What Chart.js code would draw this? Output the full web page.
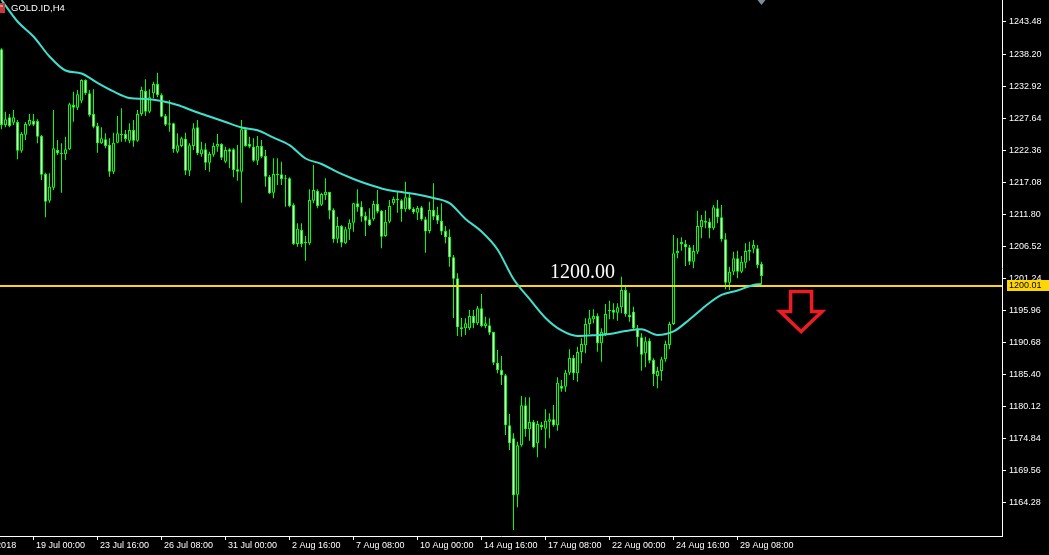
<!DOCTYPE html>
<html>
<head>
<meta charset="utf-8">
<script src="https://cdn.jsdelivr.net/npm/chart.js@4.4.1/dist/chart.umd.min.js"></script>
<style>
  html, body { margin: 0; padding: 0; background: #000; overflow: hidden; }
  #chart { display: block; background: #000; }
</style>
</head>
<body>
<canvas id="chart" width="1049" height="555"></canvas>
<script>
// GOLD.ID H4 candles (one entry per bar, oldest first)
const opens = [
  1238.98, 1226.52, 1227.79, 1226.90, 1227.01, 1222.29, 1224.92, 1226.57, 1227.18, 1227.18,
  1224.71, 1218.45, 1214.05, 1216.19, 1222.40, 1221.91, 1221.69, 1222.52, 1229.81, 1229.37,
  1230.52, 1233.93, 1231.74, 1228.33, 1226.35, 1223.50, 1224.16, 1223.22, 1218.83, 1223.60,
  1225.04, 1225.04, 1223.93, 1225.69, 1223.93, 1228.33, 1232.12, 1228.71, 1231.74, 1233.27,
  1231.46, 1228.00, 1226.57, 1226.80, 1222.12, 1223.06, 1224.26, 1218.99, 1223.06, 1226.14,
  1221.69, 1222.52, 1220.31, 1221.63, 1222.94, 1223.39, 1220.47, 1222.52, 1222.52, 1219.22,
  1218.83, 1225.81, 1223.39, 1222.94, 1220.64, 1223.06, 1221.41, 1218.00, 1215.37, 1218.45,
  1218.40, 1217.63, 1217.74, 1213.34, 1206.92, 1209.23, 1207.04, 1207.04, 1214.05, 1215.65,
  1213.39, 1214.99, 1215.49, 1212.52, 1207.80, 1209.89, 1207.04, 1209.34, 1210.43, 1213.62,
  1213.06, 1211.53, 1210.99, 1210.99, 1213.51, 1212.41, 1208.24, 1210.59, 1213.62, 1214.33,
  1214.12, 1212.64, 1214.61, 1212.74, 1212.08, 1212.97, 1210.99, 1209.06, 1212.52, 1211.70,
  1210.76, 1209.06, 1208.12, 1204.73, 1201.27, 1193.21, 1193.04, 1193.04, 1195.07, 1193.86,
  1196.33, 1193.42, 1193.54, 1192.43, 1187.38, 1186.18, 1185.30, 1177.07, 1174.93, 1165.64,
  1173.78, 1180.36, 1176.41, 1177.61, 1174.11, 1177.12, 1176.51, 1177.66, 1178.06, 1177.07,
  1183.54, 1183.43, 1185.73, 1188.15, 1185.63, 1189.14, 1190.24, 1193.75, 1194.52, 1195.07,
  1190.57, 1192.10, 1195.89, 1196.06, 1195.61, 1196.50, 1199.35, 1195.23, 1195.77, 1193.04,
  1191.56, 1188.93, 1191.00, 1187.82, 1185.19, 1186.01, 1187.94, 1190.29, 1193.75, 1205.39,
  1206.92, 1206.92, 1206.38, 1204.01, 1205.66, 1209.67, 1210.71, 1210.59, 1209.51, 1212.80,
  1211.32, 1207.70, 1200.55, 1202.36, 1204.57, 1202.36, 1203.84, 1205.66, 1206.15, 1206.21,
  1203.63
];
const highs = [
  1239.15, 1228.71, 1228.33, 1228.99, 1227.34, 1225.36, 1227.01, 1228.33, 1228.33, 1227.46,
  1224.87, 1218.66, 1218.56, 1228.99, 1224.05, 1223.50, 1224.59, 1230.19, 1232.00, 1232.28,
  1234.04, 1234.04, 1232.28, 1232.40, 1226.90, 1226.14, 1225.15, 1224.33, 1225.25, 1228.00,
  1229.27, 1225.69, 1226.80, 1227.34, 1228.99, 1232.82, 1234.04, 1232.40, 1233.65, 1235.13,
  1231.74, 1228.33, 1230.63, 1226.90, 1225.15, 1224.59, 1225.25, 1223.50, 1226.80, 1227.34,
  1223.77, 1223.50, 1222.12, 1223.60, 1225.04, 1223.50, 1222.94, 1222.68, 1222.68, 1223.22,
  1227.34, 1225.97, 1224.59, 1224.33, 1224.71, 1224.05, 1222.40, 1218.28, 1221.03, 1221.03,
  1220.47, 1218.28, 1217.91, 1213.62, 1210.33, 1210.33, 1208.24, 1215.93, 1219.93, 1215.93,
  1215.37, 1217.74, 1215.53, 1212.80, 1211.42, 1210.05, 1209.77, 1210.99, 1213.72, 1215.93,
  1213.95, 1212.24, 1212.80, 1214.05, 1215.81, 1212.52, 1212.52, 1214.17, 1214.71, 1215.53,
  1214.28, 1217.18, 1215.16, 1212.97, 1213.18, 1213.18, 1211.42, 1213.89, 1216.92, 1213.06,
  1213.62, 1209.89, 1209.34, 1205.11, 1202.10, 1194.74, 1194.69, 1196.06, 1196.06, 1196.71,
  1198.69, 1194.95, 1194.69, 1192.48, 1189.47, 1188.48, 1185.52, 1178.93, 1175.75, 1174.37,
  1181.89, 1181.68, 1181.68, 1177.94, 1177.83, 1177.66, 1179.70, 1179.05, 1180.41, 1184.97,
  1184.53, 1186.18, 1189.58, 1188.65, 1190.01, 1191.40, 1194.69, 1196.06, 1196.17, 1195.51,
  1193.04, 1197.04, 1197.59, 1197.16, 1197.16, 1201.54, 1200.17, 1198.90, 1196.60, 1193.59,
  1192.22, 1191.66, 1191.40, 1188.10, 1186.72, 1188.37, 1191.00, 1194.13, 1208.40, 1207.86,
  1208.03, 1207.58, 1206.76, 1206.76, 1212.41, 1211.70, 1212.41, 1211.15, 1213.34, 1214.17,
  1213.34, 1208.68, 1203.19, 1205.66, 1205.82, 1204.95, 1207.04, 1207.30, 1207.58, 1206.76,
  1204.01
];
const lows = [
  1225.81, 1226.14, 1226.14, 1226.52, 1220.87, 1221.96, 1224.05, 1226.35, 1226.35, 1223.50,
  1217.46, 1211.32, 1213.72, 1215.81, 1221.58, 1215.37, 1220.75, 1222.40, 1227.06, 1228.99,
  1230.09, 1231.46, 1227.88, 1225.97, 1221.96, 1223.39, 1222.68, 1218.00, 1218.45, 1223.50,
  1223.77, 1223.77, 1223.50, 1222.94, 1223.77, 1228.00, 1228.00, 1228.44, 1230.91, 1231.08,
  1227.79, 1226.35, 1225.41, 1221.96, 1221.86, 1222.85, 1218.28, 1218.12, 1222.40, 1221.58,
  1221.30, 1219.11, 1218.83, 1221.30, 1222.12, 1220.75, 1220.21, 1219.39, 1217.91, 1217.35,
  1213.72, 1222.94, 1222.68, 1220.47, 1219.93, 1221.03, 1216.36, 1215.16, 1214.45, 1216.64,
  1216.64, 1213.06, 1212.97, 1206.76, 1206.48, 1206.38, 1204.17, 1206.76, 1213.62, 1212.80,
  1213.18, 1214.17, 1210.99, 1207.14, 1207.04, 1206.38, 1206.92, 1207.58, 1208.95, 1212.24,
  1210.59, 1208.24, 1209.89, 1210.76, 1211.98, 1206.21, 1208.12, 1210.33, 1213.34, 1212.08,
  1210.59, 1212.24, 1212.52, 1211.86, 1210.87, 1210.76, 1205.49, 1208.68, 1210.87, 1210.22,
  1208.40, 1207.04, 1203.19, 1194.74, 1191.77, 1191.66, 1191.94, 1192.76, 1193.04, 1193.59,
  1193.21, 1193.04, 1191.94, 1187.00, 1185.63, 1183.71, 1175.47, 1173.00, 1159.83, 1163.57,
  1173.55, 1175.19, 1174.53, 1173.28, 1171.80, 1176.30, 1173.28, 1174.93, 1176.84, 1176.18,
  1182.60, 1182.60, 1185.35, 1184.53, 1184.25, 1187.28, 1188.93, 1192.10, 1193.86, 1189.19,
  1187.54, 1191.77, 1194.52, 1194.52, 1194.29, 1195.51, 1194.95, 1194.13, 1192.76, 1190.01,
  1186.06, 1186.62, 1187.28, 1183.54, 1183.16, 1184.41, 1187.54, 1189.58, 1193.59, 1204.57,
  1205.82, 1203.30, 1203.47, 1202.92, 1205.28, 1207.86, 1209.51, 1207.86, 1209.23, 1210.33,
  1207.30, 1199.46, 1199.35, 1201.82, 1201.27, 1202.10, 1202.92, 1204.17, 1205.39, 1202.92,
  1200.34
];
const closes = [
  1226.52, 1227.46, 1226.35, 1227.79, 1222.29, 1225.04, 1226.68, 1227.34, 1226.57, 1224.59,
  1218.33, 1213.89, 1216.36, 1222.68, 1221.86, 1221.74, 1222.52, 1229.93, 1229.37, 1231.57,
  1233.93, 1231.74, 1228.16, 1226.24, 1223.50, 1224.33, 1223.06, 1218.83, 1223.60, 1225.15,
  1224.87, 1224.21, 1225.69, 1223.93, 1228.33, 1232.28, 1228.71, 1231.08, 1233.27, 1231.46,
  1227.88, 1226.57, 1226.80, 1222.52, 1223.17, 1224.33, 1218.99, 1223.17, 1225.97, 1221.86,
  1222.52, 1220.31, 1221.74, 1223.06, 1223.39, 1221.13, 1222.40, 1222.12, 1219.11, 1218.83,
  1225.81, 1223.06, 1222.94, 1220.64, 1223.06, 1221.30, 1218.00, 1215.27, 1218.45, 1218.28,
  1217.63, 1217.74, 1213.18, 1206.92, 1209.44, 1206.92, 1207.25, 1214.17, 1215.81, 1213.18,
  1215.16, 1215.53, 1212.41, 1207.70, 1209.89, 1207.14, 1209.34, 1210.43, 1213.62, 1212.97,
  1211.42, 1210.76, 1210.00, 1213.51, 1212.24, 1208.12, 1210.59, 1213.18, 1214.33, 1214.12,
  1212.64, 1214.61, 1212.64, 1212.14, 1212.85, 1210.96, 1208.98, 1212.52, 1211.42, 1210.76,
  1208.98, 1208.03, 1204.73, 1201.21, 1193.21, 1192.93, 1193.86, 1195.07, 1193.86, 1196.33,
  1193.42, 1193.86, 1192.32, 1187.38, 1186.18, 1185.30, 1177.07, 1174.11, 1165.54, 1173.78,
  1180.36, 1176.41, 1177.61, 1173.45, 1177.28, 1176.74, 1177.83, 1178.06, 1177.07, 1184.08,
  1183.10, 1185.73, 1188.15, 1185.63, 1189.14, 1190.46, 1193.75, 1194.69, 1195.07, 1190.57,
  1192.48, 1195.40, 1196.06, 1195.61, 1196.50, 1199.35, 1195.40, 1194.85, 1193.04, 1191.56,
  1188.69, 1190.90, 1187.71, 1185.47, 1186.01, 1187.94, 1190.46, 1193.75, 1205.39, 1205.77,
  1207.25, 1206.38, 1204.01, 1205.77, 1209.89, 1210.87, 1210.43, 1209.51, 1212.97, 1211.32,
  1207.70, 1200.55, 1202.36, 1204.57, 1202.36, 1204.01, 1205.77, 1205.94, 1206.76, 1203.47,
  1201.65
];

// moving average (turquoise), sampled every 4th bar
const maBars = [
  0, 4, 8, 12, 16, 20, 24, 28, 32, 36, 40, 44, 48, 52, 56, 60, 64, 68, 72, 76,
  80, 84, 88, 92, 96, 100, 104, 108, 112, 116, 120, 124, 128, 132, 136, 140, 144, 148, 152, 156,
  160, 164, 168, 172, 176, 180, 184, 188, 190
];
const maValues = [
  1247.10, 1243.56, 1241.09, 1237.80, 1235.49, 1235.00, 1233.44, 1232.04, 1230.97, 1230.80,
  1230.47, 1229.81, 1228.82, 1227.92, 1227.01, 1226.11, 1225.65, 1224.43, 1223.19, 1221.00,
  1220.10, 1218.75, 1217.63, 1216.67, 1215.90, 1215.47, 1215.09, 1214.50, 1213.64, 1211.04,
  1208.98, 1206.02, 1201.16, 1197.87, 1194.74, 1192.68, 1191.78, 1191.89, 1192.11, 1192.60,
  1192.88, 1191.94, 1192.52, 1194.49, 1196.72, 1198.53, 1199.27, 1200.17, 1200.34
];

// axes
const priceTicks = [
  1243.48, 1238.20, 1232.92, 1227.64, 1222.36, 1217.08, 1211.80, 1206.52,
  1201.24, 1195.96, 1190.68, 1185.40, 1180.12, 1174.84, 1169.56, 1164.28
];
const timeTickBars = [-8.6, 8, 24, 40, 56, 72, 88, 104, 120, 136, 152, 168, 184];
const timeTickLabels = [
  "18 Jul 2018", "19 Jul 00:00", "23 Jul 16:00", "26 Jul 08:00", "31 Jul 00:00",
  "2 Aug 16:00", "7 Aug 08:00", "10 Aug 00:00", "14 Aug 16:00", "17 Aug 08:00",
  "22 Aug 00:00", "24 Aug 16:00", "29 Aug 08:00"
];
const priceMin = 1158.84;
const priceMax = 1247.10;
const barMin = -0.375;
const barMax = 250.125;

// horizontal line object + its text, and the drawn arrow
const levelPrice = 1200.01;
const levelText = "1200.00";
const levelTextAt = { bar: 137.1, price: 1201.32 };
const arrowAt = { bar: 199.9, price: 1199.1 };

const LIME = "#00ff00";
const TURQ = "#40e0d0";
const GOLD = "#ffd700";
const FONT = "'Liberation Sans', Arial, sans-serif";

const wickData = highs.map((h, i) => ({ x: i, y: [lows[i], h] }));
const bodyData = opens.map((o, i) => ({ x: i, y: [o, closes[i]] }));
const bodyFill = opens.map((o, i) => (closes[i] < o ? "#ffffff" : "#000000"));
const maData = maBars.map((b, i) => ({ x: b, y: maValues[i] }));

const overlay = {
  id: "mt4Overlay",
  afterDraw(chart) {
    const ctx = chart.ctx;
    const xs = chart.scales.x;
    const ys = chart.scales.y;
    ctx.save();

    // symbol icon + caption
    ctx.fillStyle = "#c83a3a";
    ctx.fillRect(-3, 3, 8, 10);
    ctx.fillStyle = "#e88080";
    ctx.fillRect(0, 5, 3, 2);
    ctx.fillStyle = "#ffffff";
    ctx.font = "9.5px " + FONT;
    ctx.textBaseline = "middle";
    ctx.textAlign = "left";
    ctx.fillText("GOLD.ID,H4", 11, 8);

    // chart shift marker
    const sx = xs.getPixelForValue(opens.length - 1);
    ctx.fillStyle = "#7d8c9c";
    ctx.beginPath();
    ctx.moveTo(sx - 4, 0);
    ctx.lineTo(sx + 4, 0);
    ctx.lineTo(sx, 5);
    ctx.closePath();
    ctx.fill();

    // text label of the level
    ctx.fillStyle = "#ffffff";
    ctx.font = "20px 'Liberation Serif', 'Times New Roman', serif";
    ctx.textBaseline = "alphabetic";
    ctx.fillText(levelText, xs.getPixelForValue(levelTextAt.bar), ys.getPixelForValue(levelTextAt.price));

    // red down arrow
    const ax = xs.getPixelForValue(arrowAt.bar);
    const ay = ys.getPixelForValue(arrowAt.price);
    ctx.strokeStyle = "#ec1c24";
    ctx.lineWidth = 3.5;
    ctx.lineJoin = "miter";
    ctx.beginPath();
    ctx.moveTo(ax - 10.5, ay);
    ctx.lineTo(ax + 10.5, ay);
    ctx.lineTo(ax + 10.5, ay + 20);
    ctx.lineTo(ax + 21, ay + 20);
    ctx.lineTo(ax, ay + 40);
    ctx.lineTo(ax - 21, ay + 20);
    ctx.lineTo(ax - 10.5, ay + 20);
    ctx.closePath();
    ctx.stroke();

    // price tag of the level on the axis
    const ly = Math.round(ys.getPixelForValue(levelPrice));
    ctx.fillStyle = GOLD;
    ctx.fillRect(ys.left + 5, ly - 6, chart.width - ys.left - 5, 11);
    ctx.fillStyle = "#000000";
    ctx.font = "9px " + FONT;
    ctx.textBaseline = "middle";
    ctx.fillText(levelPrice.toFixed(2), ys.left + 7, ly);

    ctx.restore();
  }
};

new Chart(document.getElementById("chart"), {
  type: "bar",
  data: {
    datasets: [
      {
        type: "line",
        data: maData,
        borderColor: TURQ,
        borderWidth: 2,
        pointRadius: 0,
        cubicInterpolationMode: "monotone",
        order: 0
      },
      {
        type: "line",
        data: [{ x: barMin, y: levelPrice }, { x: barMax, y: levelPrice }],
        borderColor: GOLD,
        borderWidth: 2,
        pointRadius: 0,
        order: 1
      },
      {
        data: bodyData,
        backgroundColor: bodyFill,
        borderColor: LIME,
        borderWidth: 1,
        borderSkipped: false,
        barThickness: 3,
        grouped: false,
        inflateAmount: 0,
        order: 2
      },
      {
        data: wickData,
        backgroundColor: LIME,
        borderWidth: 0,
        barThickness: 1,
        grouped: false,
        inflateAmount: 0,
        order: 3
      }
    ]
  },
  options: {
    responsive: false,
    animation: false,
    events: [],
    layout: { padding: 0, autoPadding: false },
    plugins: { legend: { display: false }, tooltip: { enabled: false } },
    scales: {
      x: {
        type: "linear",
        min: barMin,
        max: barMax,
        offset: false,
        grid: { drawOnChartArea: false, drawTicks: true, tickLength: 4, color: "#ffffff", offset: false },
        border: { display: true, color: "#ffffff" },
        ticks: {
          color: "#ffffff",
          font: { family: FONT, size: 9 },
          autoSkip: false,
          maxRotation: 0,
          minRotation: 0,
          align: "start",
          padding: 0,
          callback: (v) => " " + timeTickLabels[timeTickBars.indexOf(v)]
        },
        afterBuildTicks: (s) => { s.ticks = timeTickBars.map((v) => ({ value: v })); },
        afterFit: (s) => { s.height = 19; s.paddingLeft = 0; s.paddingRight = 0; }
      },
      y: {
        type: "linear",
        position: "right",
        min: priceMin,
        max: priceMax,
        grid: { drawOnChartArea: false, drawTicks: true, tickLength: 4, color: "#ffffff" },
        border: { display: true, color: "#ffffff" },
        ticks: {
          color: "#ffffff",
          font: { family: FONT, size: 9 },
          autoSkip: false,
          padding: 3,
          callback: (v) => v.toFixed(2)
        },
        afterBuildTicks: (s) => { s.ticks = priceTicks.map((v) => ({ value: v })); },
        afterFit: (s) => { s.width = 47; s.paddingTop = 0; s.paddingBottom = 0; }
      }
    }
  },
  plugins: [overlay]
});
</script>
</body>
</html>
